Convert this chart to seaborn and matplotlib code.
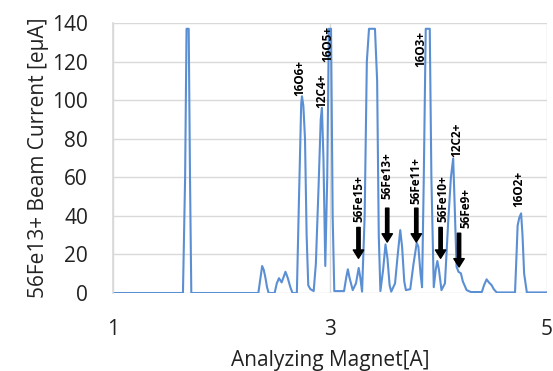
import matplotlib
matplotlib.use("Agg")
import matplotlib.pyplot as plt
import seaborn as sns
import pandas as pd

# ---- data ----
magnet_A = [1.00, 1.63, 1.645, 1.665, 1.678, 1.698, 1.71, 1.722,
            2.34, 2.36, 2.375, 2.39, 2.405, 2.42, 2.435,
            2.49, 2.51, 2.53, 2.555, 2.59, 2.61, 2.635, 2.655,
            2.695, 2.715, 2.735, 2.742, 2.755, 2.77, 2.785, 2.80, 2.82, 2.85,
            2.87, 2.895, 2.915, 2.926, 2.94, 2.957, 2.975, 2.99, 3.01, 3.025, 3.04,
            3.13, 3.15, 3.165, 3.18, 3.21, 3.24, 3.265, 3.28, 3.296,
            3.32, 3.34, 3.36, 3.415, 3.435, 3.45, 3.465,
            3.49, 3.512, 3.53, 3.55, 3.565, 3.60, 3.625, 3.648, 3.665, 3.685, 3.70,
            3.74, 3.77, 3.80, 3.815, 3.835, 3.849, 3.865, 3.883, 3.92, 3.935, 3.957,
            3.975, 3.99, 4.005, 4.028, 4.06, 4.09, 4.115, 4.136, 4.15, 4.167,
            4.185, 4.207, 4.225, 4.26, 4.30, 4.40, 4.42, 4.444, 4.465, 4.49, 4.51,
            4.537, 4.706, 4.72, 4.73, 4.745, 4.762, 4.775, 4.79, 4.815, 5.00]
current_eA = [0, 0, 0, 60, 137, 137, 60, 0,
              0, 8, 14, 12, 8, 3, 0,
              0, 5, 7.7, 5.5, 11, 8, 3, 0,
              0, 50, 98, 102, 97, 80, 30, 4, 2, 1,
              15, 55, 90, 96, 70, 14, 60, 137, 137, 40, 1,
              1, 8, 12.3, 8, 1.5, 5, 13, 8, 0.7,
              40, 120, 137, 137, 110, 30, 1,
              12, 25.2, 18, 4, 0.7, 5, 20, 32.6, 24, 6, 1.5,
              2, 15, 26, 24, 10, 3, 60, 137, 137, 60, 3,
              12, 16.6, 12, 1.5, 5, 37, 60, 69.8, 45, 13.6,
              11, 10.2, 6, 1.5, 0.5, 0.5, 4, 7.1, 5.5, 4.1, 2,
              0.3, 0.3, 20, 35, 39, 41.3, 30, 10, 0.3, 0.3]

# peak labels (text, x, y of text bottom)
peak_labels = ["16O6+", "12C4+", "16O5+", "16O3+", "12C2+", "16O2+"]
peak_x = [2.72, 2.925, 2.98, 3.84, 4.17, 4.74]
peak_y = [102, 96, 120, 117, 70.5, 44.5]

# Fe labels with arrows
fe_labels = ["56Fe15+", "56Fe13+", "56Fe11+", "56Fe10+", "56Fe9+"]
fe_text_x = [3.263, 3.528, 3.796, 4.045, 4.255]
fe_text_y = [37, 49, 46, 37, 33.5]
fe_arrow_x = [3.263, 3.528, 3.796, 4.02, 4.19]
fe_arrow_tail = [34, 44, 44, 34, 31]
fe_arrow_tip = [18, 26.4, 26.4, 18, 13.5]

x_ticks = [1, 3, 5]
y_ticks = [0, 20, 40, 60, 80, 100, 120, 140]

sns.set_theme(style="white")
plt.rcParams['font.family'] = ['Open Sans', 'DejaVu Sans']

fig = plt.figure(figsize=(5.53, 3.71), dpi=100)
ax = fig.add_axes([0.2043, 0.2102, 0.7847, 0.7278])

df = pd.DataFrame({"A": magnet_A, "I": current_eA})
sns.lineplot(data=df, x="A", y="I", ax=ax, color="#5B8FD3", lw=1.5, estimator=None)

ax.set_xlim(1, 5)
ax.set_ylim(0, 140)
ax.set_xticks(x_ticks)
ax.set_yticks(y_ticks)
ax.set_xticklabels([str(t) for t in x_ticks], fontsize=15)
ax.set_yticklabels([str(t) for t in y_ticks], fontsize=15)
ax.tick_params(axis='x', length=0, pad=19, colors='#222222')
ax.tick_params(axis='y', length=0, pad=18, colors='#222222')
ax.grid(True, color="#D9D9D9", lw=1)
ax.set_axisbelow(True)
for s in ["top", "right", "bottom"]:
    ax.spines[s].set_visible(False)
ax.spines["left"].set_color("#D9D9D9")

ax.set_xlabel("Analyzing Magnet[A]", fontsize=15, color='#222222', labelpad=7)
ax.set_ylabel("56Fe13+ Beam Current [eμA]", fontsize=15, color='#222222', labelpad=2)

for t, x, y in zip(peak_labels, peak_x, peak_y):
    ax.text(x, y, t, rotation=90, ha='center', va='bottom', fontsize=8.5,
            fontweight='bold', color='black')

for t, tx, ty, axx, tail, tip in zip(fe_labels, fe_text_x, fe_text_y,
                                     fe_arrow_x, fe_arrow_tail, fe_arrow_tip):
    ax.text(tx, ty, t, rotation=90, ha='center', va='bottom', fontsize=8.5,
            fontweight='bold', color='black')
    ax.annotate("", xy=(axx, tip), xytext=(axx, tail),
                arrowprops=dict(facecolor='black', edgecolor='black', width=2.4,
                                headwidth=7.5, headlength=6, shrink=0))

fig.savefig("out.png", dpi=100)
